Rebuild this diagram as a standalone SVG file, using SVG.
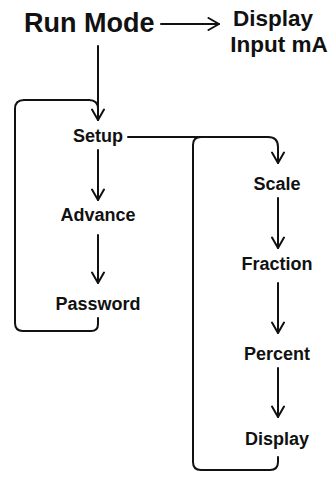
<svg xmlns="http://www.w3.org/2000/svg" width="335" height="481" viewBox="0 0 335 481">
<defs>
<style>
.t{font-family:"Liberation Sans",Arial,sans-serif;font-weight:bold;fill:#111;}
.big{font-size:27px;}
.mid{font-size:22.5px;}
.sm{font-size:18px;}
.c{fill:none;stroke:#111;stroke-width:2;stroke-linecap:round;stroke-linejoin:round;}
</style>
<marker id="ah" viewBox="0 0 14 14" refX="12.5" refY="7" markerWidth="14" markerHeight="14" markerUnits="userSpaceOnUse" orient="auto">
<path d="M2,1 L12.5,7 L2,13" fill="none" stroke="#111" stroke-width="2" stroke-linecap="round" stroke-linejoin="round"/>
</marker>
</defs>
<rect width="335" height="481" fill="#fff"/>
<g id="run-mode"><text class="t big" x="24" y="32">Run Mode</text></g>
<g id="display-input"><text class="t mid" x="273" y="26" text-anchor="middle">Display</text><text class="t mid" x="279" y="52" text-anchor="middle">Input mA</text></g>
<g id="setup"><text class="t sm" x="98" y="142" text-anchor="middle">Setup</text></g>
<g id="advance"><text class="t sm" x="98" y="221" text-anchor="middle">Advance</text></g>
<g id="password"><text class="t sm" x="98" y="310" text-anchor="middle">Password</text></g>
<g id="scale"><text class="t sm" x="277" y="190" text-anchor="middle">Scale</text></g>
<g id="fraction"><text class="t sm" x="277" y="270" text-anchor="middle">Fraction</text></g>
<g id="percent"><text class="t sm" x="277" y="360" text-anchor="middle">Percent</text></g>
<g id="display"><text class="t sm" x="277" y="445" text-anchor="middle">Display</text></g>
<g id="connectors">
<path class="c" d="M161,24 H219" marker-end="url(#ah)"/>
<path class="c" d="M98,46 V120" marker-end="url(#ah)"/>
<path class="c" d="M98,318 V324 Q98,331 91,331 H23 Q15,331 15,323 V109 Q15,100 24,100 H89 Q98,100 98,109 V120"/>
<path class="c" d="M128,137 H268 Q278,137 278,147 V163" marker-end="url(#ah)"/>
<path class="c" d="M278,457 V462 Q278,470 270,470 H201 Q193,470 193,462 V145 Q193,137 201,137 H210"/>
<path class="c" d="M98,150 V200" marker-end="url(#ah)"/>
<path class="c" d="M98,235 V283" marker-end="url(#ah)"/>
<path class="c" d="M278,198 V248" marker-end="url(#ah)"/>
<path class="c" d="M278,283 V333" marker-end="url(#ah)"/>
<path class="c" d="M278,368 V417" marker-end="url(#ah)"/>
</g>
</svg>
